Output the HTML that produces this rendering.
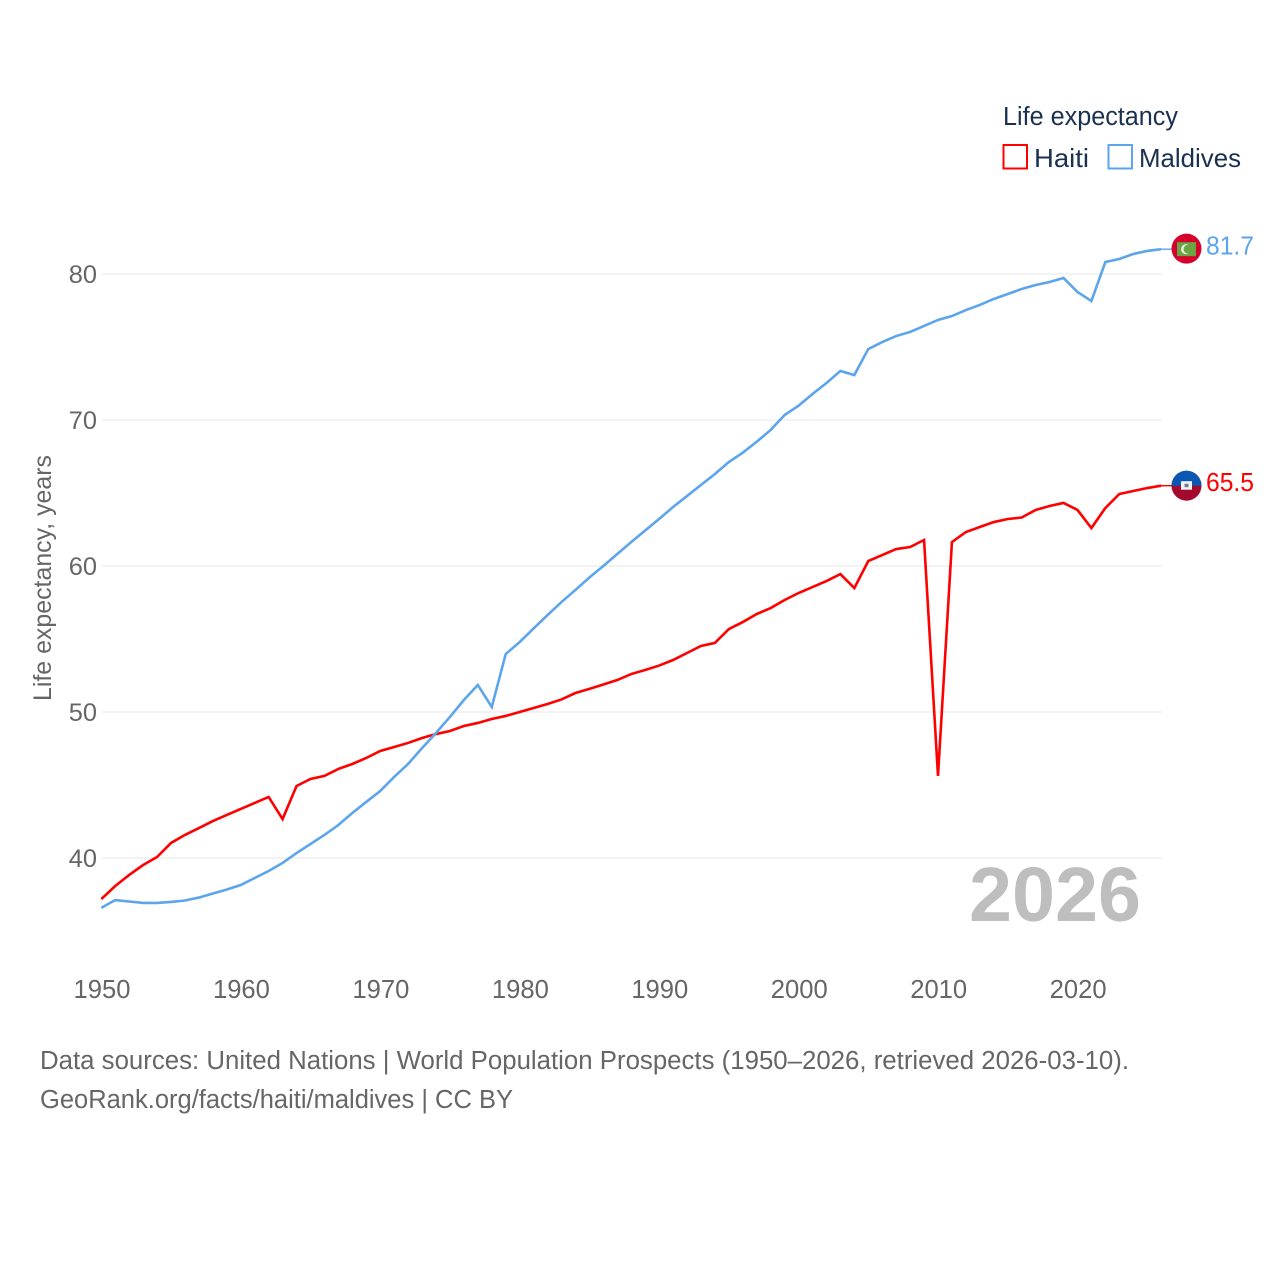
<!DOCTYPE html>
<html lang="en">
<head>
<meta charset="utf-8">
<title>Life expectancy: Haiti and Maldives</title>
<style>
  html, body { margin: 0; padding: 0; background: #fff; }
  svg { display: block; }
  text { font-family: "Liberation Sans", sans-serif; }
</style>
</head>
<body>
<svg id="chart" width="1280" height="1280" viewBox="0 0 1280 1280" xmlns="http://www.w3.org/2000/svg">
  <g id="grid"></g>
  <g id="y-ticks"></g>
  <g id="x-ticks"></g>
  <text transform="translate(51,578) rotate(-90)" text-anchor="middle" font-size="25" fill="#666666" textLength="246" lengthAdjust="spacingAndGlyphs">Life expectancy, years</text>
  <text x="969" y="921" font-size="77" font-weight="bold" fill="#bebebe" textLength="172" lengthAdjust="spacingAndGlyphs">2026</text>
  <g id="series"></g>

  <g>
    <text x="1003" y="125" font-size="25.5" fill="#1a3050" textLength="175" lengthAdjust="spacingAndGlyphs">Life expectancy</text>
    <rect x="1003.5" y="145" width="23.5" height="23.5" fill="#fff" stroke="#ff0000" stroke-width="2"/>
    <text x="1034" y="167" font-size="26" fill="#1a3050" textLength="55" lengthAdjust="spacingAndGlyphs">Haiti</text>
    <rect x="1108.5" y="145" width="23.5" height="23.5" fill="#fff" stroke="#5ca5ec" stroke-width="2"/>
    <text x="1139" y="167" font-size="26" fill="#1a3050" textLength="102" lengthAdjust="spacingAndGlyphs">Maldives</text>
  </g>

  <g>
    <text x="40" y="1069" font-size="25.5" fill="#666666" textLength="1089" lengthAdjust="spacingAndGlyphs">Data sources: United Nations | World Population Prospects (1950–2026, retrieved 2026-03-10).</text>
    <text x="40" y="1108" font-size="25.5" fill="#666666" textLength="473" lengthAdjust="spacingAndGlyphs">GeoRank.org/facts/haiti/maldives | CC BY</text>
  </g>
</svg>
<script>
const years = [1950,1951,1952,1953,1954,1955,1956,1957,1958,1959,
  1960,1961,1962,1963,1964,1965,1966,1967,1968,1969,
  1970,1971,1972,1973,1974,1975,1976,1977,1978,1979,
  1980,1981,1982,1983,1984,1985,1986,1987,1988,1989,
  1990,1991,1992,1993,1994,1995,1996,1997,1998,1999,
  2000,2001,2002,2003,2004,2005,2006,2007,2008,2009,
  2010,2011,2012,2013,2014,2015,2016,2017,2018,2019,
  2020,2021,2022,2023,2024,2025,2026];
const haiti = [37.19,38.08,38.84,39.52,40.07,41.03,41.58,42.05,42.53,42.95,
  43.36,43.77,44.18,42.67,44.93,45.41,45.62,46.10,46.44,46.85,
  47.33,47.60,47.88,48.22,48.49,48.70,49.04,49.25,49.52,49.73,
  50.00,50.27,50.55,50.86,51.30,51.58,51.88,52.19,52.60,52.88,
  53.18,53.56,54.04,54.52,54.73,55.68,56.16,56.71,57.12,57.67,
  58.15,58.56,58.97,59.45,58.49,60.34,60.75,61.16,61.30,61.78,
  45.62,61.64,62.33,62.67,63.01,63.22,63.32,63.84,64.11,64.32,
  63.84,62.60,63.97,64.93,65.14,65.34,65.50];
const maldives = [36.58,37.12,37.02,36.92,36.92,36.99,37.09,37.29,37.57,37.84,
  38.15,38.63,39.11,39.66,40.34,40.96,41.58,42.26,43.08,43.84,
  44.59,45.55,46.44,47.53,48.56,49.66,50.82,51.85,50.34,53.97,
  54.79,55.72,56.64,57.53,58.36,59.21,60.00,60.82,61.64,62.43,
  63.22,64.04,64.79,65.55,66.30,67.12,67.76,68.51,69.32,70.34,
  70.98,71.78,72.53,73.36,73.08,74.86,75.34,75.75,76.03,76.44,
  76.85,77.12,77.53,77.88,78.29,78.63,78.97,79.25,79.45,79.73,
  78.77,78.15,80.82,81.03,81.37,81.58,81.70];
const yTickValues = [40,50,60,70,80];
const xTickValues = [1950,1960,1970,1980,1990,2000,2010,2020];

const NS = 'http://www.w3.org/2000/svg';
const HAITI_COLOR = '#ff0000';
const MALDIVES_COLOR = '#5ca5ec';

function xScale(year) { return 101.3 + (year - 1950) * 13.945; }
function yScale(value) { return 858 - (value - 40) * (858 - 274) / 40; }

function make(tag, attrs, parent) {
  const el = document.createElementNS(NS, tag);
  for (const k in attrs) el.setAttribute(k, attrs[k]);
  parent.appendChild(el);
  return el;
}

const gridGroup = document.getElementById('grid');
const yTickGroup = document.getElementById('y-ticks');
const xTickGroup = document.getElementById('x-ticks');
const seriesGroup = document.getElementById('series');

yTickValues.forEach(function (v) {
  const line = make('line', {x1: 102, x2: 1162, y1: yScale(v), y2: yScale(v), stroke: '#ececec', 'stroke-width': 1.2}, gridGroup);
  
  
  const label = make('text', {x: 97, y: yScale(v) + 9, 'text-anchor': 'end', 'font-size': 25.4, fill: '#666666'}, yTickGroup);
  label.textContent = String(v);
  
  
});

xTickValues.forEach(function (y) {
  const label = make('text', {x: xScale(y) + 0.7, y: 998, 'text-anchor': 'middle', 'font-size': 25.6, fill: '#666666'}, xTickGroup);
  label.textContent = String(y);
  
  
});

function drawSeries(values, color, key) {
  const pts = values.map(function (v, i) { return xScale(years[i]).toFixed(2) + ',' + yScale(v).toFixed(2); }).join(' ');
  const line = make('polyline', {points: pts, fill: 'none', stroke: color, 'stroke-width': 2.6, 'stroke-linejoin': 'miter'}, seriesGroup);
  
  

  const last = values[values.length - 1];
  const ex = xScale(years[years.length - 1]);
  const ey = yScale(last);
  const lead = make('line', {x1: ex, x2: 1174, y1: ey, y2: ey, stroke: color, 'stroke-width': 1.4}, seriesGroup);
  
  

  const value = make('text', {x: 1206, y: ey + 5.5, 'font-size': 25.6, fill: color, textLength: 48, lengthAdjust: 'spacingAndGlyphs'}, seriesGroup);
  value.textContent = last.toFixed(1);
  
  
  return ey;
}

const haitiY = drawSeries(haiti, HAITI_COLOR, 'haiti');
const maldivesY = drawSeries(maldives, MALDIVES_COLOR, 'maldives');

/* Maldives flag marker */
const mf = make('g', {transform: 'translate(1186.5,' + (maldivesY - 0.5) + ')'}, seriesGroup);


make('circle', {cx: 0, cy: 0, r: 15, fill: '#d5002c'}, mf);
make('rect', {x: -9.5, y: -6.5, width: 19, height: 14, fill: '#6aa544'}, mf);
make('circle', {cx: -0.5, cy: 0.5, r: 5, fill: '#e4ecd8'}, mf);
make('circle', {cx: 1.5, cy: 0.5, r: 4.4, fill: '#6aa544'}, mf);

/* Haiti flag marker */
const hf = make('g', {transform: 'translate(1186.5,' + haitiY + ')'}, seriesGroup);


make('circle', {cx: 0, cy: 0, r: 15, fill: '#a3092c'}, hf);
make('path', {d: 'M-15,0 A15,15 0 0 1 15,0 Z', fill: '#0a58b4'}, hf);
make('rect', {x: -5.5, y: -4.5, width: 11, height: 8.5, fill: '#f4f4f4'}, hf);
make('rect', {x: -2, y: -2, width: 4, height: 3.5, fill: '#6a7fa0'}, hf);
</script>
</body>
</html>
